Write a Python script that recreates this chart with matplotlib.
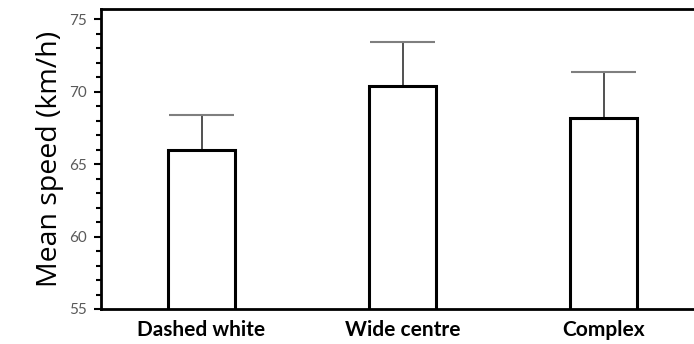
import matplotlib
matplotlib.use("Agg")
import matplotlib.pyplot as plt
from matplotlib.ticker import MultipleLocator

# mean speed per marking treatment, with upper error
treatments = ["Dashed white", "Wide centre", "Complex"]
mean_speed = [66.0, 70.4, 68.15]
upper_err = [2.4, 3.0, 3.2]

fig = plt.figure(figsize=(6.94, 3.44), dpi=100)
ax = fig.add_axes([101 / 694, 35 / 344, 603 / 694, 300 / 344])

x = list(range(len(treatments)))
bar_w = 0.335
ax.bar(x, mean_speed, width=bar_w, color="white",
       edgecolor="black", linewidth=2.2, zorder=2)

# upper error only: stem + cap
tops = [m + e for m, e in zip(mean_speed, upper_err)]
ax.vlines(x, mean_speed, tops, color="#333333", linewidth=1.2, zorder=1)
ax.hlines(tops, [i - bar_w * 0.48 for i in x], [i + bar_w * 0.48 for i in x],
          color="#7f7f7f", linewidth=1.5, zorder=1)

ax.set_xlim(-0.5, 2.5)
ax.set_ylim(55, 75.69)
ax.set_xticks(x)
ax.set_xticklabels(treatments, fontfamily="Lato", fontweight="bold", fontsize=15)
ax.tick_params(axis="x", length=0, pad=8)

ax.yaxis.set_major_locator(MultipleLocator(5))
ax.yaxis.set_minor_locator(MultipleLocator(1))
ax.tick_params(axis="y", which="major", length=5, width=1.5, labelsize=11,
               labelcolor="#595959", pad=5)
ax.tick_params(axis="y", which="minor", length=3.5, width=1.5)
for lab in ax.get_yticklabels():
    lab.set_fontfamily("Lato")

ax.spines["right"].set_visible(False)
for s in ["left", "top", "bottom"]:
    ax.spines[s].set_linewidth(2)

ax.set_ylabel("Mean speed (km/h)", fontfamily="Open Sans", fontsize=20.5, labelpad=4)

fig.savefig("out.png", dpi=100)
